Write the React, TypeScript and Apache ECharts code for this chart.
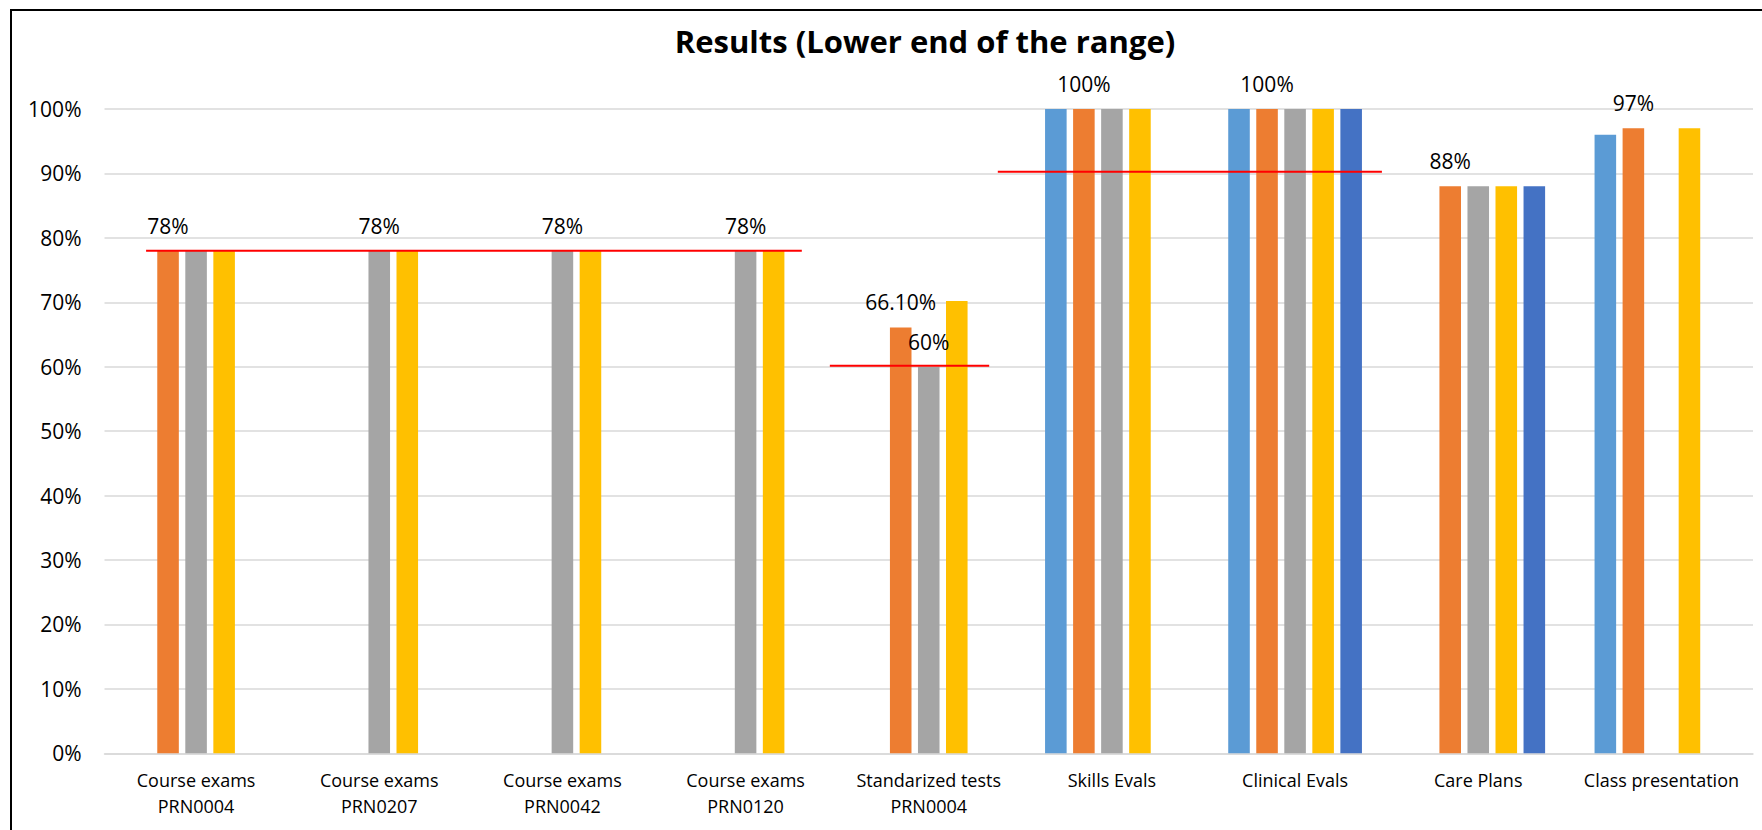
import React, { useEffect, useRef } from "react";
import * as echarts from "echarts";

const categories = [
  "Course exams\nPRN0004",
  "Course exams\nPRN0207",
  "Course exams\nPRN0042",
  "Course exams\nPRN0120",
  "Standarized tests\nPRN0004",
  "Skills Evals",
  "Clinical Evals",
  "Care Plans",
  "Class presentation",
];

const seriesBlue = [null, null, null, null, null, 100, 100, null, 96];
const seriesOrange = [78, null, null, null, 66.1, 100, 100, 88, 97];
const seriesGray = [78, 78, 78, 78, 60, 100, 100, 88, null];
const seriesYellow = [78, 78, 78, 78, 70.2, 100, 100, 88, 97];
const seriesDarkBlue = [null, null, null, null, null, null, 100, 88, null];

// which gray bars carry a value label
const grayLabelled = [false, true, true, true, true, false, false, false, false];

// red benchmark segments: [start (category units), end (category units), value %]
const benchmarkStart = [0.227, 3.96, 4.877];
const benchmarkEnd = [3.807, 4.83, 6.974];
const benchmarkValue = [78, 60.16, 90.27];

const yTicks = { min: 0, max: 100, interval: 10 };

const FONT = "'Open Sans', 'Noto Sans', sans-serif";

const fmtPct = (v: number) =>
  Math.round(v) === v ? `${v}%` : `${v.toFixed(2)}%`;

const labelStyle = {
  show: true,
  position: "top" as const,
  distance: 14,
  fontSize: 21,
  lineHeight: 22,
  fontFamily: FONT,
  color: "#000",
  formatter: (p: any) => fmtPct(p.value as number),
};

const toData = (arr: (number | null)[]) => arr.map((v) => (v === null ? "-" : v));

export default function App() {
  const ref = useRef<HTMLDivElement>(null);

  useEffect(() => {
    if (!ref.current) return;
    const chart = echarts.init(ref.current, undefined, { renderer: "svg" });

    const barCommon = {
      type: "bar" as const,
      xAxisIndex: 0,
      yAxisIndex: 0,
      barGap: "30%",
      barCategoryGap: "27%",
    };

    const benchSeries = benchmarkValue.map((v, i) => ({
      type: "line" as const,
      xAxisIndex: 1,
      yAxisIndex: 0,
      symbol: "none",
      silent: true,
      z: 5,
      lineStyle: { color: "#FF0000", width: 2 },
      data: [
        [benchmarkStart[i], v],
        [benchmarkEnd[i], v],
      ],
    }));

    chart.setOption({
      animation: false,
      backgroundColor: "#fff",
      textStyle: { fontFamily: FONT },
      graphic: [
        {
          type: "rect",
          shape: { x: 11, y: 10, width: 1800, height: 900 },
          style: { fill: "none", stroke: "#000", lineWidth: 2 },
          silent: true,
        },
        {
          type: "text",
          x: 925,
          y: 41,
          style: {
            text: "Results (Lower end of the range)",
            fontFamily: FONT,
            fontWeight: "bold",
            fontSize: 31,
            fill: "#000",
            textAlign: "center",
            textVerticalAlign: "middle",
          },
        },
      ],
      grid: {
        left: 104.5,
        right: 9,
        top: 109,
        bottom: 76.7,
        containLabel: false,
      },
      xAxis: [
        {
          type: "category",
          data: categories,
          axisLine: { show: true, lineStyle: { color: "#D9D9D9", width: 1.5 } },
          axisTick: { show: false },
          axisLabel: {
            interval: 0,
            margin: 14,
            fontSize: 18,
            lineHeight: 26,
            fontFamily: FONT,
            color: "#000",
          },
        },
        {
          type: "value",
          min: 0,
          max: 9,
          show: false,
          splitLine: { show: false },
        },
      ],
      yAxis: [
        {
          type: "value",
          min: yTicks.min,
          max: yTicks.max,
          interval: yTicks.interval,
          axisLine: { show: false },
          axisTick: { show: false },
          splitLine: { lineStyle: { color: "#D9D9D9", width: 1.5 } },
          axisLabel: {
            formatter: "{value}%",
            margin: 23,
            fontSize: 21,
            fontFamily: FONT,
            color: "#000",
          },
        },
      ],
      series: [
        { ...barCommon, name: "S1", itemStyle: { color: "#5B9BD5" }, data: toData(seriesBlue) },
        {
          ...barCommon,
          name: "S2",
          itemStyle: { color: "#ED7D31" },
          label: labelStyle,
          data: toData(seriesOrange),
        },
        {
          ...barCommon,
          name: "S3",
          itemStyle: { color: "#A5A5A5" },
          data: seriesGray.map((v, i) =>
            v === null ? "-" : { value: v, label: { ...labelStyle, show: grayLabelled[i] } }
          ),
        },
        { ...barCommon, name: "S4", itemStyle: { color: "#FFC000" }, data: toData(seriesYellow) },
        { ...barCommon, name: "S5", itemStyle: { color: "#4472C4" }, data: toData(seriesDarkBlue) },
        ...benchSeries,
      ],
    });

    return () => chart.dispose();
  }, []);

  return (
    <div
      ref={ref}
      style={{ position: "fixed", left: 0, top: 0, width: 1762, height: 830 }}
    />
  );
}
